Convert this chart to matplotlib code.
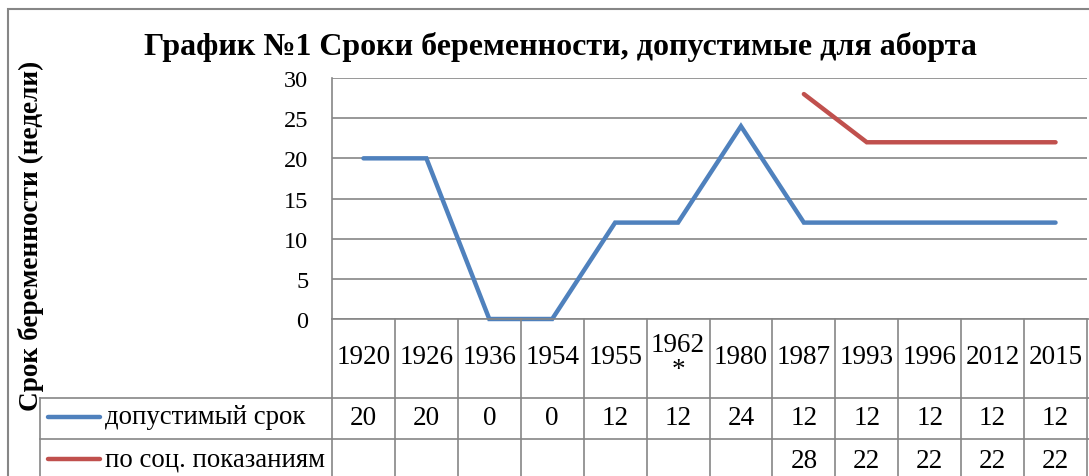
import matplotlib
matplotlib.use("Agg")
import matplotlib.pyplot as plt
import matplotlib.transforms as mtransforms
from matplotlib.patches import Rectangle
from matplotlib.lines import Line2D

# ---- data ----
years = ["1920", "1926", "1936", "1954", "1955", "1962\n*", "1980",
         "1987", "1993", "1996", "2012", "2015"]
allowed = [20, 20, 0, 0, 12, 12, 24, 12, 12, 12, 12, 12]
social = [None, None, None, None, None, None, None, 28, 22, 22, 22, 22]
series_names = ["допустимый срок", "по соц. показаниям"]
title = "График №1 Сроки беременности, допустимые для аборта"
ylabel = "Срок беременности (недели)"
yticks = [0, 5, 10, 15, 20, 25, 30]

BLUE = "#4F81BD"
RED = "#C0504D"
GRID = "#868686"
FONT = "Liberation Serif"

W, H = 1089, 477
fig = plt.figure(figsize=(W / 100, H / 100), dpi=100)
plt.rcParams["font.family"] = [FONT, "DejaVu Serif"]

def fx(px):
    return px / W

def fy(py):
    return 1 - py / H

# chart area border
fig.patches.append(Rectangle((fx(8), fy(500)), fx(1100) - fx(8), fy(10) - fy(500),
                             transform=fig.transFigure, fill=False,
                             edgecolor=GRID, linewidth=1.5))

L, R, T, B = 332, 1087, 79, 320
ax = fig.add_axes([fx(L), fy(B), fx(R) - fx(L), fy(T) - fy(B)])
n = len(years)
x = list(range(n))
ax.set_xlim(-0.5, n - 0.5)
ax.set_ylim(0, 30)
ax.set_yticks(yticks)
ax.set_yticklabels([str(v) for v in yticks], fontsize=17.5)
ax.tick_params(axis="y", length=0, pad=17)
ax.set_xticks([])
ax.grid(axis="y", color=GRID, linewidth=1.2)
ax.set_axisbelow(True)
for s in ["top", "right", "bottom"]:
    ax.spines[s].set_visible(False)
ax.spines["left"].set_color(GRID)
ax.spines["left"].set_linewidth(1.2)

ax.plot(x, allowed, color=BLUE, linewidth=3.2, solid_capstyle="round",
        solid_joinstyle="miter", clip_on=False)
sx = [i for i, v in enumerate(social) if v is not None]
sv = [v for v in social if v is not None]
ax.plot(sx, sv, color=RED, linewidth=3.2, solid_capstyle="round",
        solid_joinstyle="miter", clip_on=False)

# ---- data table ----
def ay(py):
    return (B - py) / (B - T)

tr_data = mtransforms.blended_transform_factory(ax.transData, ax.transAxes)

lkw = dict(color=GRID, linewidth=1.2, clip_on=False)
fig.add_artist(Line2D([fx(L), fx(1100)], [fy(320), fy(320)], transform=fig.transFigure, **lkw))
for py in (399, 440):
    fig.add_artist(Line2D([fx(40), fx(1100)], [fy(py), fy(py)], transform=fig.transFigure, **lkw))
for k in range(n + 1):
    xv = k - 0.5
    ax.add_line(Line2D([xv, xv], [ay(320), ay(520)], transform=tr_data, **lkw))
fig.add_artist(Line2D([fx(40), fx(40)], [fy(399), fy(520)], transform=fig.transFigure, **lkw))

TF = 19.5
for i, yr in enumerate(years):
    ax.text(i, ay(358), yr, transform=tr_data, ha="center", va="center",
            fontsize=TF, linespacing=1.0, clip_on=False)
for i, v in enumerate(allowed):
    ax.text(i, ay(419), str(v), transform=tr_data, ha="center", va="center",
            fontsize=TF, clip_on=False)
for i, v in enumerate(social):
    if v is not None:
        ax.text(i, ay(461), str(v), transform=tr_data, ha="center", va="center",
                fontsize=TF, clip_on=False)

for name, col, py in [(series_names[0], BLUE, 418), (series_names[1], RED, 460)]:
    fig.add_artist(Line2D([fx(48), fx(100)], [fy(py), fy(py)], transform=fig.transFigure,
                          color=col, linewidth=3.2, solid_capstyle="round"))
    fig.text(fx(105), fy(py), name, ha="left", va="center", fontsize=19.3)

fig.text(fx(560), fy(47), title, ha="center", va="center", fontsize=23,
         fontweight="bold")
fig.text(fx(31), fy(236), ylabel, ha="center", va="center", rotation=90,
         fontsize=19.6, fontweight="bold")

fig.savefig("out.png", dpi=100)
